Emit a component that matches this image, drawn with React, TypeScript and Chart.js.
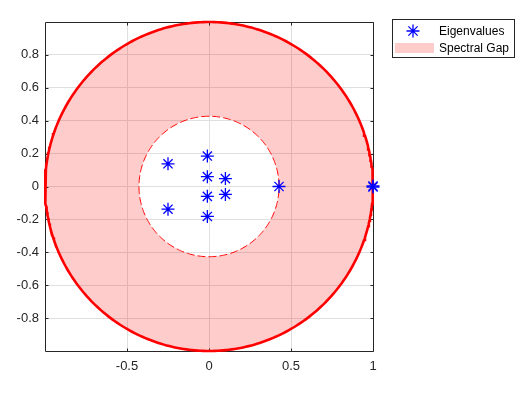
import React, { useEffect, useRef } from 'react';
import { Chart, registerables } from 'chart.js';

Chart.register(...registerables);

// ---- data ----
const EIG_X = [-0.25, -0.25, -0.01, -0.01, -0.01, -0.01, 0.1, 0.1, 0.427, 1.0, 1.0];
const EIG_Y = [0.138, -0.138, 0.185, 0.06, -0.06, -0.182, 0.048, -0.048, 0, 0.003, -0.003];
const OUTER_RADIUS = 1;
const INNER_RADIUS = 0.427;
const X_TICKS = [-0.5, 0, 0.5, 1];
const Y_TICKS = [-0.8, -0.6, -0.4, -0.2, 0, 0.2, 0.4, 0.6, 0.8];
const LEGEND_LABELS = ['Eigenvalues', 'Spectral Gap'];
const CIRCLE_STEPS = 360;

const AXIS_COLOR = '#262626';
const GRID_COLOR = '#dfdfdf';
const FILL_COLOR = 'rgba(255,0,0,0.2)';
const FONT_FAMILY = '"Liberation Sans", Arial, Helvetica, sans-serif';

function circlePoints(r: number) {
  const pts: { x: number; y: number }[] = [];
  for (let i = 0; i <= CIRCLE_STEPS; i++) {
    const a = (2 * Math.PI * i) / CIRCLE_STEPS;
    pts.push({ x: r * Math.cos(a), y: r * Math.sin(a) });
  }
  return pts;
}

function drawStar(ctx: CanvasRenderingContext2D, x: number, y: number, r: number) {
  const d = r * Math.SQRT1_2;
  ctx.beginPath();
  ctx.moveTo(x - r, y);
  ctx.lineTo(x + r, y);
  ctx.moveTo(x, y - r);
  ctx.lineTo(x, y + r);
  ctx.moveTo(x - d, y - d);
  ctx.lineTo(x + d, y + d);
  ctx.moveTo(x - d, y + d);
  ctx.lineTo(x + d, y - d);
  ctx.stroke();
}

const annulusPlugin = {
  id: 'annulusAndBox',
  beforeDatasetsDraw(chart: any) {
    const ctx: CanvasRenderingContext2D = chart.ctx;
    const { left, right, top, bottom } = chart.chartArea;
    const outer = chart.getDatasetMeta(1).data;
    const inner = chart.getDatasetMeta(2).data;
    ctx.save();
    ctx.beginPath();
    ctx.rect(left, top, right - left, bottom - top);
    ctx.clip();
    ctx.beginPath();
    outer.forEach((p: any, i: number) => (i ? ctx.lineTo(p.x, p.y) : ctx.moveTo(p.x, p.y)));
    ctx.closePath();
    inner.forEach((p: any, i: number) => (i ? ctx.lineTo(p.x, p.y) : ctx.moveTo(p.x, p.y)));
    ctx.closePath();
    ctx.fillStyle = FILL_COLOR;
    ctx.fill('evenodd');
    ctx.restore();

    // axes box and inward ticks
    ctx.save();
    ctx.strokeStyle = AXIS_COLOR;
    ctx.lineWidth = 1;
    const l = Math.round(left) + 0.5;
    const r = Math.round(right) + 0.5;
    const t = Math.round(top) + 0.5;
    const b = Math.round(bottom) + 0.5;
    ctx.beginPath();
    ctx.rect(l, t, r - l, b - t);
    ctx.stroke();
    const xs = chart.scales.x;
    const ys = chart.scales.y;
    ctx.beginPath();
    X_TICKS.forEach((v) => {
      const px = Math.round(xs.getPixelForValue(v)) + 0.5;
      ctx.moveTo(px, b);
      ctx.lineTo(px, b - 3);
      ctx.moveTo(px, t);
      ctx.lineTo(px, t + 3);
    });
    Y_TICKS.forEach((v) => {
      const py = Math.round(ys.getPixelForValue(v)) + 0.5;
      ctx.moveTo(l, py);
      ctx.lineTo(l + 3, py);
      ctx.moveTo(r, py);
      ctx.lineTo(r - 3, py);
    });
    ctx.stroke();
    ctx.restore();
  },
};

const legendPlugin = {
  id: 'matlabLegend',
  afterDraw(chart: any) {
    const ctx: CanvasRenderingContext2D = chart.ctx;
    const boxL = 392;
    const boxT = 19;
    const boxW = 122;
    const boxH = 38;
    ctx.save();
    ctx.fillStyle = '#ffffff';
    ctx.fillRect(boxL, boxT, boxW, boxH);
    ctx.strokeStyle = AXIS_COLOR;
    ctx.lineWidth = 1;
    ctx.strokeRect(boxL + 0.5, boxT + 0.5, boxW, boxH);
    // entry 1: marker
    ctx.strokeStyle = '#0000ff';
    ctx.lineWidth = 1.3;
    drawStar(ctx, 413, 31, 6.5);
    // entry 2: patch
    ctx.fillStyle = FILL_COLOR;
    ctx.fillRect(395, 43, 39, 10);
    ctx.fillStyle = '#000000';
    ctx.font = `12px ${FONT_FAMILY}`;
    ctx.textBaseline = 'middle';
    ctx.textAlign = 'left';
    ctx.fillText(LEGEND_LABELS[0], 439, 31.5);
    ctx.fillText(LEGEND_LABELS[1], 439, 48.5);
    ctx.restore();
  },
};

export default function App() {
  const canvasRef = useRef<HTMLCanvasElement | null>(null);

  useEffect(() => {
    if (!canvasRef.current) return;
    const eigData = EIG_X.map((x, i) => ({ x, y: EIG_Y[i] }));
    const tickFont = { family: FONT_FAMILY, size: 13 };
    const chart = new Chart(canvasRef.current, {
      type: 'scatter',
      data: {
        datasets: [
          {
            label: LEGEND_LABELS[0],
            data: eigData,
            showLine: false,
            clip: false,
            pointStyle: 'star',
            pointRadius: 6.5,
            pointBorderWidth: 1.3,
            pointBorderColor: '#0000ff',
            pointBackgroundColor: '#0000ff',
          },
          {
            label: 'Unit circle',
            data: circlePoints(OUTER_RADIUS),
            showLine: true,
            clip: false,
            borderColor: '#ff0000',
            borderWidth: 2.6,
            pointRadius: 0,
            fill: false,
          },
          {
            label: 'Inner circle',
            data: circlePoints(INNER_RADIUS),
            showLine: true,
            clip: false,
            borderColor: '#ff0000',
            borderWidth: 1,
            borderDash: [8, 3],
            pointRadius: 0,
            fill: false,
          },
        ],
      } as any,
      options: {
        animation: false,
        responsive: false,
        layout: { padding: { left: 0, top: 22, right: 159, bottom: 0 } },
        plugins: {
          legend: { display: false },
          tooltip: { enabled: false },
        },
        scales: {
          x: {
            type: 'linear',
            min: -1,
            max: 1,
            afterBuildTicks: (s: any) => {
              s.ticks = X_TICKS.map((v) => ({ value: v }));
            },
            afterFit: (s: any) => {
              s.height = 44;
            },
            grid: { color: GRID_COLOR, drawTicks: false, tickLength: 0 },
            border: { display: false },
            ticks: {
              padding: 8,
              color: AXIS_COLOR,
              font: tickFont,
              maxRotation: 0,
              autoSkip: false,
              callback: (v: any) => String(v),
            },
          },
          y: {
            type: 'linear',
            min: -1,
            max: 1,
            afterBuildTicks: (s: any) => {
              s.ticks = Y_TICKS.map((v) => ({ value: v }));
            },
            afterFit: (s: any) => {
              s.width = 45;
            },
            grid: { color: GRID_COLOR, drawTicks: false, tickLength: 0 },
            border: { display: false },
            ticks: {
              padding: 6,
              color: AXIS_COLOR,
              font: tickFont,
              autoSkip: false,
              callback: (v: any) => String(v),
            },
          },
        },
      } as any,
      plugins: [annulusPlugin, legendPlugin],
    });
    return () => chart.destroy();
  }, []);

  return (
    <div style={{ position: 'fixed', left: 0, top: 0, width: 532, height: 395, background: '#ffffff' }}>
      <canvas ref={canvasRef} width={532} height={395} style={{ display: 'block' }} />
    </div>
  );
}
